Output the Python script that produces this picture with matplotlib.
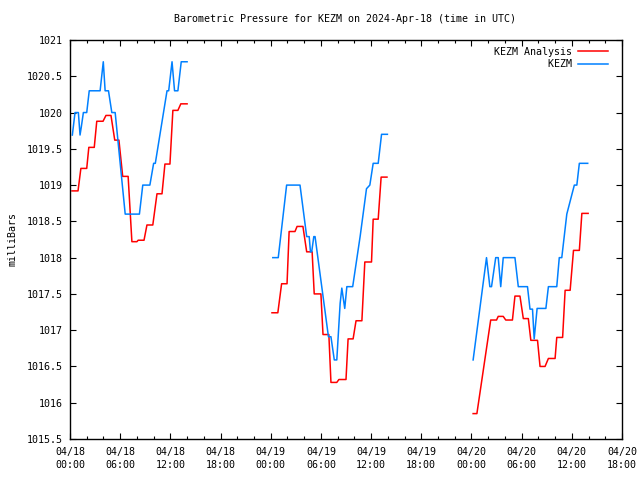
import matplotlib
matplotlib.use("Agg")
import matplotlib.pyplot as plt
from matplotlib.ticker import MultipleLocator, FuncFormatter
import numpy as np

# hours since 2024-04-18 00:00 UTC, pressure in mb
# KEZM Analysis
ana_h = [0.24, 0.96, 1.3, 2.0, 2.25, 2.9, 3.2, 3.95, 4.3, 4.9, 5.35, 5.85, 6.3, 6.95,
         7.4, 8.0, 8.15, 8.85, 9.2, 9.9, 10.4, 11.0, 11.35, 11.95, 12.3, 12.9, 13.25, 14.0,
         np.nan,
         24.15, 24.85, 25.3, 25.95, 26.2, 26.9, 27.15, 27.85, 28.3, 28.95, 29.2, 30.0,
         30.25, 30.95, 31.2, 31.9, 32.15, 33.0, 33.25, 33.85, 34.2, 34.9, 35.25, 36.05,
         36.25, 36.85, 37.2, 37.9,
         np.nan,
         48.2, 48.65, 50.3, 51.0, 51.2, 51.8, 52.1, 52.9, 53.2, 53.8, 54.2, 54.8,
         55.1, 55.9, 56.2, 56.8, 57.2, 58.0, 58.2, 58.9, 59.2, 59.8, 60.2, 60.9, 61.2, 61.95]
ana_p = [1018.92, 1018.92, 1019.23, 1019.23, 1019.52, 1019.52, 1019.88, 1019.88,
         1019.96, 1019.96, 1019.62, 1019.62, 1019.12, 1019.12, 1018.22, 1018.22,
         1018.24, 1018.24, 1018.45, 1018.45, 1018.88, 1018.88, 1019.29, 1019.29,
         1020.03, 1020.03, 1020.12, 1020.12,
         np.nan,
         1017.24, 1017.24, 1017.64, 1017.64, 1018.36, 1018.36, 1018.43, 1018.43,
         1018.08, 1018.08, 1017.5, 1017.5, 1016.94, 1016.94, 1016.28, 1016.28,
         1016.32, 1016.32, 1016.88, 1016.88, 1017.13, 1017.13, 1017.94, 1017.94,
         1018.53, 1018.53, 1019.11, 1019.11,
         np.nan,
         1015.85, 1015.85, 1017.14, 1017.14, 1017.19, 1017.19, 1017.14, 1017.14,
         1017.47, 1017.47, 1017.16, 1017.16, 1016.86, 1016.86, 1016.5, 1016.5,
         1016.61, 1016.61, 1016.9, 1016.9, 1017.55, 1017.55, 1018.1, 1018.1,
         1018.61, 1018.61]

# KEZM observations
obs_h = [0.28, 0.6, 1.0, 1.2, 1.35, 1.6, 2.0, 2.3, 3.6, 3.98, 4.2, 4.6, 5.0, 5.4,
         6.6, 8.3, 8.7, 9.55, 10.0, 10.2, 11.6, 11.8, 12.2, 12.5, 12.9, 13.3, 14.0,
         np.nan,
         24.25, 24.9, 25.9, 27.5, 28.3, 28.6, 28.75, 28.9, 29.15, 29.3, 30.9, 31.2,
         31.6, 31.9, 32.3, 32.5, 32.85, 33.1, 33.8, 34.7, 35.45, 35.85, 36.25, 36.85,
         37.25, 37.95,
         np.nan,
         48.2, 49.8, 50.2, 50.4, 50.9, 51.2, 51.5, 51.8, 53.2, 53.6, 54.7, 55.0, 55.3,
         55.5, 55.85, 56.9, 57.2, 58.2, 58.5, 58.8, 59.4, 60.3, 60.6, 60.9, 61.9]
obs_p = [1019.69, 1020.0, 1020.0, 1019.69, 1019.8, 1020.0, 1020.0, 1020.3, 1020.3,
         1020.7, 1020.3, 1020.3, 1020.0, 1020.0, 1018.6, 1018.6, 1019.0, 1019.0,
         1019.3, 1019.3, 1020.3, 1020.3, 1020.7, 1020.3, 1020.3, 1020.7, 1020.7,
         np.nan,
         1018.0, 1018.0, 1019.0, 1019.0, 1018.29, 1018.29, 1018.08, 1018.08, 1018.29,
         1018.29, 1016.91, 1016.91, 1016.59, 1016.59, 1017.37, 1017.58, 1017.3,
         1017.6, 1017.6, 1018.3, 1018.95, 1019.0, 1019.3, 1019.3, 1019.7, 1019.7,
         np.nan,
         1016.59, 1018.0, 1017.6, 1017.6, 1018.0, 1018.0, 1017.6, 1018.0, 1018.0,
         1017.6, 1017.6, 1017.29, 1017.29, 1016.88, 1017.3, 1017.3, 1017.6, 1017.6,
         1018.0, 1018.0, 1018.6, 1019.0, 1019.0, 1019.3, 1019.3]

dates = ["04/18", "04/19", "04/20"]

plt.rcParams['font.family'] = 'DejaVu Sans Mono'
plt.rcParams['font.size'] = 7.2

fig = plt.figure(figsize=(6.4, 4.8), dpi=100)
ax = fig.add_axes([70/640, 1 - 439/480, 552/640, 399/480])

ax.plot(ana_h, ana_p, color="#ff0000", lw=1.1, label="KEZM Analysis")
ax.plot(obs_h, obs_p, color="#0080ff", lw=1.1, label="KEZM".rjust(13))

ax.set_xlim(0, 66)
ax.set_ylim(1015.5, 1021)
ax.xaxis.set_major_locator(MultipleLocator(6))
ax.xaxis.set_minor_locator(MultipleLocator(2))
ax.yaxis.set_major_locator(MultipleLocator(0.5))


def fmt_time(h, pos):
    d = int(h // 24)
    return "%s\n%02d:00" % (dates[d] if d < len(dates) else dates[-1], int(h % 24))


ax.xaxis.set_major_formatter(FuncFormatter(fmt_time))
ax.yaxis.set_major_formatter(FuncFormatter(lambda v, p: ("%g" % v)))
ax.tick_params(which="both", direction="in", top=True, right=True, color="black")
ax.tick_params(which="major", length=4, width=0.8)
ax.tick_params(which="minor", length=2.2, width=0.8)
ax.tick_params(axis="x", pad=6)
ax.tick_params(axis="y", pad=5)
for lab in ax.get_xticklabels():
    lab.set_linespacing(1.3)
for s in ax.spines.values():
    s.set_linewidth(1.0)

ax.set_ylabel("milliBars", labelpad=8)
ax.yaxis.set_label_coords(-0.095, 0.5)
fig.text(345/640, 1 - 19/480, "Barometric Pressure for KEZM on 2024-Apr-18 (time in UTC)",
         ha="center", va="center")

ax.legend(loc="upper right", bbox_to_anchor=(1 - 7/552, 1), frameon=False,
          markerfirst=False, handlelength=3.0, handletextpad=0.6,
          borderaxespad=0.3, labelspacing=0.25)

fig.savefig("out.png", dpi=100)
